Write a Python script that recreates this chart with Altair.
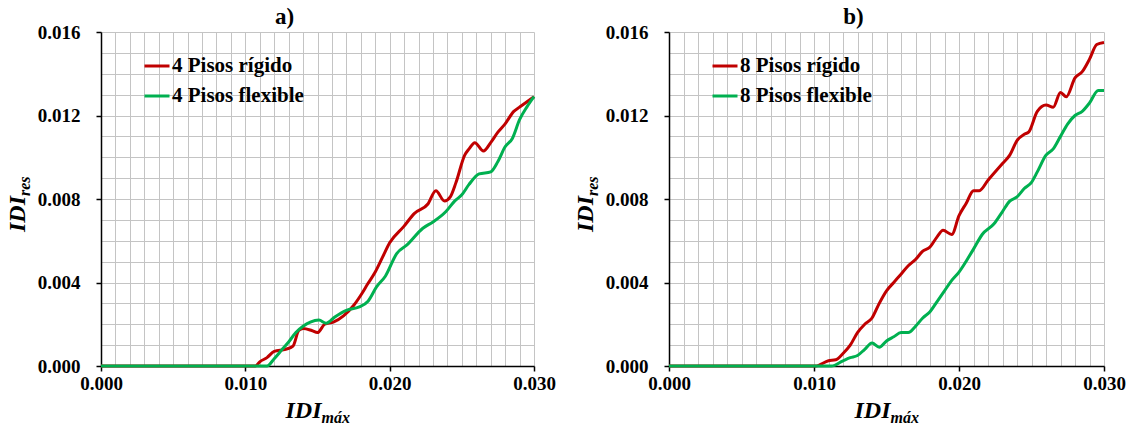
import altair as alt
import pandas as pd

# ---- Panel a): 4 storeys ----
a_rig_x = [0.0, 0.0107, 0.011, 0.0115, 0.012, 0.0128, 0.0133, 0.0137, 0.014, 0.0146,
           0.0150, 0.0155, 0.0161, 0.0168, 0.0175, 0.0181, 0.01845, 0.019, 0.0195, 0.020,
           0.021, 0.0217, 0.02265, 0.0232, 0.0238, 0.0242, 0.0246, 0.0252, 0.0255, 0.0259,
           0.0265, 0.027, 0.0275, 0.028, 0.0286, 0.029, 0.030]
a_rig_y = [0.0, 0.0, 0.0002, 0.0004, 0.0007, 0.0008, 0.00095, 0.0017, 0.0018, 0.0017,
           0.0016, 0.0020, 0.0021, 0.0024, 0.0029, 0.0035, 0.0039, 0.0045, 0.0052, 0.0059,
           0.0067, 0.0073, 0.00776, 0.0084, 0.0079, 0.0081, 0.0088, 0.0101, 0.0104, 0.0107,
           0.0103, 0.0107, 0.0112, 0.0116, 0.0122, 0.0124, 0.0129]

a_flex_x = [0.0, 0.0115, 0.012, 0.0125, 0.013, 0.0135, 0.014, 0.0145, 0.0151, 0.0156,
            0.0162, 0.017, 0.0179, 0.0185, 0.0191, 0.0197, 0.0205, 0.0212, 0.0223, 0.023,
            0.0239, 0.0245, 0.025, 0.0255, 0.0262, 0.027, 0.0275, 0.028, 0.0285, 0.029,
            0.0295, 0.030]
a_flex_y = [0.0, 0.0, 0.00035, 0.00075, 0.00115, 0.0016, 0.0019, 0.0021, 0.0022, 0.00205,
            0.00235, 0.00267, 0.00283, 0.0031, 0.0038, 0.0043, 0.0054, 0.0058, 0.0066, 0.0069,
            0.0074, 0.0079, 0.0082, 0.0087, 0.0092, 0.0093, 0.0098, 0.0105, 0.0109, 0.0118,
            0.0124, 0.0129]

# ---- Panel b): 8 storeys ----
b_rig_x = [0.0, 0.0101, 0.011, 0.0115, 0.012, 0.0125, 0.013, 0.0135, 0.014, 0.0145,
           0.015, 0.0155, 0.016, 0.0165, 0.017, 0.0175, 0.018, 0.0185, 0.0189, 0.0195,
           0.020, 0.0205, 0.021, 0.0214, 0.022, 0.023, 0.0235, 0.024, 0.0245, 0.0248,
           0.0254, 0.026, 0.0265, 0.027, 0.0274, 0.028, 0.0285, 0.029, 0.0295, 0.030]
b_rig_y = [0.0, 0.0, 0.00025, 0.0003, 0.0006, 0.0010, 0.0016, 0.0020, 0.0023, 0.0030,
           0.0036, 0.0040, 0.0044, 0.0048, 0.0051, 0.0055, 0.0057, 0.0062, 0.0065, 0.0063,
           0.0072, 0.0078, 0.0084, 0.0084, 0.0089, 0.0097, 0.0101, 0.0108, 0.0111, 0.0112,
           0.0122, 0.0125, 0.0124, 0.0131, 0.0129, 0.0138, 0.0141, 0.0147, 0.0154, 0.0155]

b_flex_x = [0.0, 0.0112, 0.012, 0.0125, 0.013, 0.0135, 0.014, 0.0145, 0.015, 0.0155,
            0.016, 0.0165, 0.017, 0.0175, 0.018, 0.0185, 0.019, 0.0195, 0.020, 0.021,
            0.0216, 0.0224, 0.023, 0.0235, 0.024, 0.0245, 0.025, 0.0254, 0.026, 0.0265,
            0.027, 0.0275, 0.028, 0.0285, 0.029, 0.0296, 0.030]
b_flex_y = [0.0, 0.0, 0.00025, 0.0004, 0.0005, 0.0008, 0.0011, 0.0009, 0.0012, 0.0014,
            0.0016, 0.0016, 0.0019, 0.0023, 0.0026, 0.0031, 0.0036, 0.0041, 0.0045, 0.0056,
            0.0063, 0.0068, 0.0074, 0.0079, 0.0081, 0.0085, 0.0088, 0.0093, 0.0101, 0.0104,
            0.0110, 0.0116, 0.0120, 0.0122, 0.0126, 0.0132, 0.0132]

a_names = ["4 Pisos rígido", "4 Pisos flexible"]
b_names = ["8 Pisos rígido", "8 Pisos flexible"]
panel_tags = ["a)", "b)"]

X_DOMAIN = [0.0, 0.030]
Y_DOMAIN = [0.0, 0.016]
GRID_X = [round(i * 0.001, 3) for i in range(31)]
GRID_Y = [round(i * 0.001, 3) for i in range(17)]

FONT = "Liberation Serif"
RED = "#C00000"
GREEN = "#00B050"
GRID = "#C4C4C4"
H = 334


def frame(xs, ys, name):
    return pd.DataFrame({"idi_max": xs, "idi_res": ys, "serie": name})


def axis(step_mult, orient):
    test = f"abs(datum.value*{step_mult} - round(datum.value*{step_mult})) < 1e-6"
    return alt.Axis(
        values=GRID_X if orient == "bottom" else GRID_Y,
        orient=orient,
        title=None,
        grid=True,
        gridColor=GRID,
        gridWidth=1,
        domainColor="black",
        domainWidth=1.5,
        tickColor="black",
        tickWidth=1.5,
        tickSize=5,
        tickOpacity={"condition": {"test": test, "value": 1}, "value": 0},
        labelExpr=f"{test} ? format(datum.value, '.3f') : ''",
        labelFont=FONT,
        labelFontSize=19,
        labelFontWeight="bold",
        labelColor="black",
        labelOverlap=False,
        labelFlush=False,
        labelBound=False,
        labelPadding=3 if orient == "bottom" else 16,
    )


def text_layer(text, size, x, y, align, angle=0, dy=0):
    return alt.Chart(pd.DataFrame({"t": [text]})).mark_text(
        text=text, font=FONT, fontSize=size, fontWeight="bold", fontStyle="italic",
        align=align, baseline="alphabetic", angle=angle, dy=dy, color="black",
    ).encode(x=alt.value(x), y=alt.value(y))


def panel(rig, flex, names, tag, width):
    color = alt.Color(
        "serie:N",
        scale=alt.Scale(domain=names, range=[RED, GREEN]),
        legend=alt.Legend(
            title=None, orient="none", legendX=42, legendY=20,
            symbolType="stroke", symbolSize=625, symbolStrokeWidth=3,
            labelFont=FONT, labelFontSize=21, labelFontWeight="bold",
            labelColor="black", labelOffset=1, rowPadding=6,
        ),
    )
    x = alt.X("idi_max:Q", scale=alt.Scale(domain=X_DOMAIN, nice=False, zero=False),
              axis=axis(100, "bottom"))
    y = alt.Y("idi_res:Q", scale=alt.Scale(domain=Y_DOMAIN, nice=False),
              axis=axis(250, "left"))
    line_red = alt.Chart(rig).mark_line(interpolate="monotone", strokeWidth=3).encode(
        x=x, y=y, color=color)
    line_green = alt.Chart(flex).mark_line(interpolate="monotone", strokeWidth=3).encode(
        x=x, y=y, color=color)

    # axis titles with subscripts
    jx = width / 2 + 4
    xt_main = text_layer("IDI", 24, jx, H + 52, "right")
    xt_sub = text_layer("máx", 16, jx, H + 52, "left", dy=5)
    jy = H / 2 - 3
    yt_main = text_layer("IDI", 24, -76, jy, "right", angle=270)
    yt_sub = text_layer("res", 16, -76, jy, "left", angle=270, dy=5)

    return alt.layer(line_red, line_green, xt_main, xt_sub, yt_main, yt_sub).properties(
        width=width, height=H,
        title=alt.TitleParams(tag, font=FONT, fontSize=23, fontWeight="bold",
                              color="black", anchor="middle", dx=-33, offset=-6),
    )


panel_a = panel(frame(a_rig_x, a_rig_y, a_names[0]), frame(a_flex_x, a_flex_y, a_names[1]),
                a_names, panel_tags[0], 433)
panel_b = panel(frame(b_rig_x, b_rig_y, b_names[0]), frame(b_flex_x, b_flex_y, b_names[1]),
                b_names, panel_tags[1], 435)

chart = (
    alt.hconcat(panel_a, panel_b, spacing=18)
    .resolve_scale(color="independent")
    .properties(padding={"left": 6, "top": 6, "right": 0, "bottom": 0}, background="white")
    .configure_view(stroke=None)
)

chart.save("out.html", embed_options={"renderer": "svg", "actions": False})
